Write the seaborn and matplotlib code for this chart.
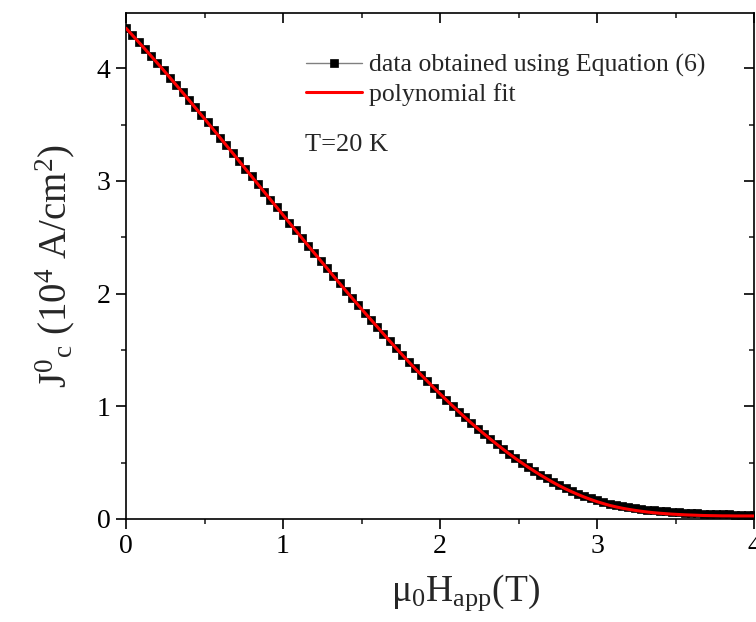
import numpy as np
import matplotlib
matplotlib.use("Agg")
import matplotlib.pyplot as plt
import seaborn as sns
from matplotlib.ticker import MultipleLocator

# ---- data ----
field_T = np.round(np.arange(0, 4.0001, 0.04), 2)

jc_data = [4.360, 4.298, 4.236, 4.173, 4.110, 4.046, 3.982, 3.917, 3.852, 3.786,
           3.720, 3.653, 3.586, 3.519, 3.451, 3.383, 3.315, 3.246, 3.177, 3.108,
           3.040, 2.971, 2.903, 2.835, 2.766, 2.698, 2.630, 2.562, 2.494, 2.426,
           2.359, 2.292, 2.225, 2.158, 2.092, 2.026, 1.961, 1.896, 1.832, 1.769,
           1.706, 1.642, 1.579, 1.517, 1.456, 1.396, 1.337, 1.279, 1.222, 1.166,
           1.111, 1.057, 1.004, 0.952, 0.901, 0.851, 0.803, 0.756, 0.710, 0.665,
           0.622, 0.580, 0.540, 0.501, 0.464, 0.428, 0.394, 0.361, 0.330, 0.301,
           0.274, 0.249, 0.225, 0.203, 0.183, 0.165, 0.149, 0.134, 0.123, 0.113,
           0.104, 0.096, 0.089, 0.083, 0.077, 0.072, 0.068, 0.064, 0.060, 0.057,
           0.054, 0.051, 0.048, 0.046, 0.044, 0.042, 0.040, 0.038, 0.037, 0.036,
           0.035]

jc_fit = [4.355, 4.294, 4.233, 4.171, 4.108, 4.045, 3.981, 3.916, 3.851, 3.785,
          3.719, 3.652, 3.585, 3.518, 3.450, 3.382, 3.314, 3.246, 3.177, 3.108,
          3.040, 2.971, 2.903, 2.835, 2.766, 2.698, 2.630, 2.562, 2.494, 2.426,
          2.359, 2.292, 2.225, 2.158, 2.092, 2.026, 1.961, 1.896, 1.832, 1.769,
          1.706, 1.642, 1.579, 1.517, 1.456, 1.396, 1.337, 1.279, 1.222, 1.166,
          1.111, 1.057, 1.004, 0.952, 0.901, 0.851, 0.803, 0.756, 0.710, 0.665,
          0.621, 0.579, 0.538, 0.499, 0.461, 0.425, 0.390, 0.357, 0.325, 0.295,
          0.267, 0.241, 0.217, 0.194, 0.173, 0.154, 0.137, 0.121, 0.108, 0.096,
          0.086, 0.077, 0.069, 0.062, 0.056, 0.051, 0.047, 0.043, 0.040, 0.037,
          0.035, 0.033, 0.031, 0.030, 0.029, 0.028, 0.028, 0.027, 0.027, 0.027,
          0.027]

label_data = "data obtained using Equation (6)"
label_fit = "polynomial fit"
annotation = "T=20 K"
x_ticks = [0, 1, 2, 3, 4]
y_ticks = [0, 1, 2, 3, 4]

# ---- style ----
sns.set_style("ticks")
plt.rcParams["font.family"] = ["Liberation Serif", "DejaVu Serif"]
plt.rcParams["mathtext.fontset"] = "custom"
plt.rcParams["mathtext.rm"] = "Liberation Serif"
plt.rcParams["mathtext.it"] = "Liberation Serif:italic"
plt.rcParams["mathtext.bf"] = "Liberation Serif:bold"

fig = plt.figure(figsize=(7.56, 6.22), dpi=100)
ax = fig.add_axes([126 / 756, 1 - 519 / 622, 628 / 756, 506 / 622])

sns.lineplot(x=field_T, y=jc_data, ax=ax, color="#808080", lw=1.0,
             marker="s", markersize=6, markerfacecolor="black",
             markeredgecolor="black", markeredgewidth=0.5,
             label=label_data, zorder=2)
sns.lineplot(x=field_T, y=jc_fit, ax=ax, color="#ff0000", lw=2.2,
             label=label_fit, zorder=3)

ax.set_xlim(0, 4)
ax.set_ylim(0, 4.49)
ax.set_xticks(x_ticks)
ax.set_yticks(y_ticks)
ax.xaxis.set_minor_locator(MultipleLocator(0.5))
ax.yaxis.set_minor_locator(MultipleLocator(0.5))

for s in ax.spines.values():
    s.set_linewidth(1.2)
    s.set_color("black")
    s.set_visible(True)

ax.tick_params(which="major", direction="out", length=7, width=1.2,
               labelsize=20, pad=4, colors="black")
ax.tick_params(which="minor", direction="out", length=3.5, width=1.2)
ax.tick_params(which="both", top=True, right=True)
# top/right ticks point inward
for t in ax.xaxis.get_major_ticks() + ax.xaxis.get_minor_ticks():
    t.tick2line.set_marker(3)
for t in ax.yaxis.get_major_ticks() + ax.yaxis.get_minor_ticks():
    t.tick2line.set_marker(0)

ax.set_xlabel(r"μ$_0$H$_{\mathrm{app}}$(T)", fontsize=27)
ax.xaxis.set_label_coords(0.54, -0.105)
ax.set_ylabel(r"J$^{0}$$_{\mathrm{c}}$ (10$^{4}$ A/cm$^{2}$)", fontsize=28)
ax.yaxis.set_label_coords(-0.078, 0.5)

leg = ax.legend(loc="upper left", bbox_to_anchor=(0.27, 0.94), frameon=False,
                fontsize=18.5, handlelength=2.2, handletextpad=0.25,
                labelspacing=0.22, borderaxespad=0)

ax.text(0.285, 0.74, annotation, transform=ax.transAxes, fontsize=19,
        ha="left", va="center")

fig.savefig("out.png", dpi=100)
